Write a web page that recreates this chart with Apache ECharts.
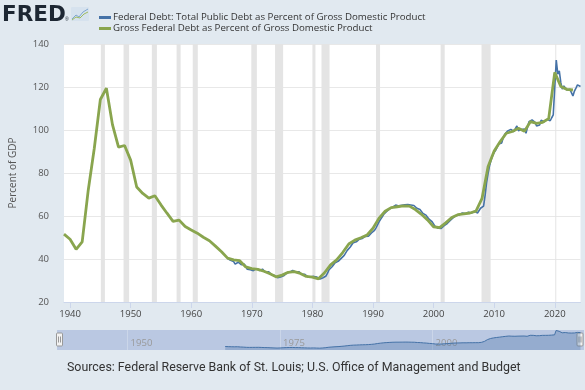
<!DOCTYPE html>
<html>
<head>
<meta charset="utf-8">
<script src="https://cdn.jsdelivr.net/npm/echarts@6/dist/echarts.min.js"></script>
<style>
html,body{margin:0;padding:0;background:#e1e9f0;}
#chart{width:585px;height:390px;}
</style>
</head>
<body>
<div id="chart"></div>
<script>
// ---- Data ----
const seriesNames = [
  'Federal Debt: Total Public Debt as Percent of Gross Domestic Product',
  'Gross Federal Debt as Percent of Gross Domestic Product'
];
// Gross Federal Debt % GDP, annual, 1939..2023
const grossStartYear = 1939;
const grossValues = [
  51.6, 49.2, 44.5, 48.0, 72.0, 91.5, 114.2, 119.4, 102.5, 92.0,
  92.8, 86.0, 73.5, 70.5, 68.3, 69.4, 65.2, 61.3, 57.5, 58.1,
  55.1, 53.5, 52.0, 50.1, 48.5, 46.0, 43.4, 40.4, 39.6, 39.2,
  36.3, 35.5, 35.2, 34.3, 33.1, 31.7, 32.5, 33.8, 34.1, 33.3,
  31.9, 31.6, 30.8, 33.6, 37.3, 39.6, 43.0, 47.0, 48.8, 49.9,
  51.1, 54.3, 59.0, 62.2, 63.9, 64.3, 64.7, 64.6, 63.0, 60.8,
  58.2, 55.0, 54.6, 56.8, 59.3, 60.6, 61.0, 61.4, 62.3, 68.2,
  83.0, 90.2, 94.6, 98.5, 99.3, 100.8, 99.4, 103.9, 103.1, 103.6,
  105.3, 126.8, 120.2, 118.9, 118.6
];
// Total Public Debt % GDP, quarterly, 1966Q1..2024Q2
const publicStartYear = 1966;
const publicValues = [
  40.2, 39.3, 39.4, 38.6,  38.8, 37.6, 38.4, 38.5,  38.8, 37.4, 37.4, 37.6,  36.6, 35.2, 35.3, 35.0,
  35.0, 34.6, 35.1, 35.5,  35.2, 34.6, 35.4, 35.3,  34.6, 33.8, 33.9, 34.1,  33.6, 32.8, 32.6, 32.3,
  31.9, 31.3, 31.1, 31.6,  31.8, 32.2, 33.0, 33.4,  33.8, 33.9, 34.3, 34.7,  34.6, 33.9, 33.8, 34.1,
  33.8, 32.9, 32.8, 32.9,  32.3, 31.7, 31.6, 31.7,  31.4, 31.9, 31.9, 31.6,  31.1, 30.7, 30.5, 31.3,
  31.7, 32.1, 33.4, 35.0,  35.9, 36.4, 37.3, 38.3,  38.6, 38.9, 39.5, 40.3,  40.9, 41.7, 42.6, 44.0,
  44.7, 45.6, 46.6, 47.6,  47.9, 48.0, 48.5, 49.2,  49.4, 49.6, 50.0, 50.5,  50.4, 50.6, 51.2, 52.1,
  52.6, 53.3, 54.5, 55.9,  57.3, 58.4, 59.5, 60.7,  61.5, 62.1, 62.7, 63.3,  63.7, 64.1, 64.6, 65.1,
  65.1, 64.7, 65.1, 65.0,  65.2, 65.2, 65.6, 65.3,  65.4, 65.1, 64.9, 64.9,  64.6, 63.6, 63.1, 63.0,
  62.5, 61.2, 60.8, 60.4,  59.8, 58.5, 57.8, 57.4,  56.6, 55.2, 54.4, 54.3,  54.1, 54.2, 54.4, 55.5,
  56.1, 56.5, 57.0, 57.9,  58.4, 59.2, 59.8, 60.3,  60.5, 60.5, 60.8, 61.4,  61.5, 61.1, 61.3, 61.8,
  61.9, 61.3, 61.8, 62.3,  62.2, 61.4, 62.1, 63.6,  63.9, 64.6, 69.5, 75.5,  79.8, 83.5, 86.0, 88.0,
  89.6, 90.6, 92.0, 93.5,  94.0, 94.0, 96.5, 98.0,  98.6, 99.6, 100.5, 100.3, 99.5, 99.3, 99.0, 101.9,
  99.7, 100.5, 100.2, 101.0, 100.5, 98.5, 98.8, 103.9, 104.5, 104.7, 104.2, 103.5, 101.9, 102.5, 102.3, 104.5,
  104.1, 103.8, 104.2, 105.0, 104.5, 104.3, 105.7, 107.0, 107.0, 132.5, 126.0, 127.5, 122.0, 119.0, 120.5, 120.5,
  118.6, 118.0, 119.0, 117.4, 115.8, 118.1, 119.5, 121.0, 121.3, 120.2
];
// NBER recessions (peak month, trough month)
const recessions = [
  ['1945-02','1945-10'], ['1948-11','1949-10'], ['1953-07','1954-05'], ['1957-08','1958-04'],
  ['1960-04','1961-02'], ['1969-12','1970-11'], ['1973-11','1975-03'], ['1980-01','1980-07'],
  ['1981-07','1982-11'], ['1990-07','1991-03'], ['2001-03','2001-11'], ['2007-12','2009-06'],
  ['2020-02','2020-04']
];
const xTickLabels = [1940, 1950, 1960, 1970, 1980, 1990, 2000, 2010, 2020];
const navTickLabels = [1950, 1975, 2000];
const yMin = 20, yMax = 140, yStep = 20;
const sourceText = 'Sources: Federal Reserve Bank of St. Louis; U.S. Office of Management and Budget';
const yAxisTitle = 'Percent of GDP';

// ---- Build ----
const grossData = grossValues.map((v, i) => [grossStartYear + i, v]);
const publicData = publicValues.map((v, i) => [publicStartYear + i * 0.25, v]);
const toDec = s => { const [y, m] = s.split('-').map(Number); return y + (m - 1) / 12; };
const recAreas = recessions.map(([a, b]) => [{ xAxis: toDec(a) }, { xAxis: toDec(b) }]);
const xMin = grossStartYear;
const xMax = publicData[publicData.length - 1][0];

const chart = echarts.init(document.getElementById('chart'), null, { renderer: 'canvas' });
const FONT = '"Open Sans", sans-serif';

const handle = (x) => ({
  type: 'group', x: x, y: 333, z: 10,
  children: [
    { type: 'rect', shape: { x: -3, y: 0, width: 6, height: 13, r: 1 }, style: { fill: '#f2f2f2', stroke: '#999', lineWidth: 1 } },
    { type: 'line', shape: { x1: -1, y1: 3.5, x2: -1, y2: 9.5 }, style: { stroke: '#999', lineWidth: 1 } },
    { type: 'line', shape: { x1: 1, y1: 3.5, x2: 1, y2: 9.5 }, style: { stroke: '#999', lineWidth: 1 } }
  ]
});

chart.setOption({
  animation: false,
  backgroundColor: '#e1e9f0',
  textStyle: { fontFamily: FONT },
  legend: {
    data: seriesNames,
    orient: 'vertical',
    left: 94, top: 7,
    icon: 'rect', itemWidth: 12, itemHeight: 3, itemGap: 0,
    textStyle: { fontSize: 9.7, color: '#333', fontFamily: FONT, lineHeight: 11, padding: [0, 0, 0, -3] },
    selectedMode: false
  },
  grid: [
    { left: 60.5, right: 4.5, top: 44, height: 258, show: true, backgroundColor: '#ffffff', borderWidth: 0 },
    { left: 60.5, right: 4.5, top: 330, height: 20 }
  ],
  xAxis: [
    {
      type: 'value', gridIndex: 0, min: xMin, max: xMax,
      axisLine: { show: true, lineStyle: { color: '#ccd6eb' } },
      axisTick: { show: true, length: 6, customValues: xTickLabels, lineStyle: { color: '#ccd6eb' } },
      axisLabel: { customValues: xTickLabels, formatter: v => String(v), color: '#444', fontSize: 9.5, margin: 7, fontFamily: FONT },
      splitLine: { show: false }
    },
    {
      type: 'value', gridIndex: 1, min: xMin, max: xMax,
      axisLine: { show: false },
      axisTick: { show: false, customValues: navTickLabels },
      axisLabel: { customValues: navTickLabels, inside: true, formatter: v => String(v), color: '#999', fontSize: 9.5, align: 'left', margin: 2, padding: [0, 0, 0, 3], fontFamily: FONT },
      splitLine: { show: true, lineStyle: { color: 'rgba(255,255,255,0.25)' } }
    }
  ],
  yAxis: [
    {
      type: 'value', gridIndex: 0, min: yMin, max: yMax, interval: yStep,
      name: yAxisTitle, nameLocation: 'middle', nameRotate: 90, nameGap: 46,
      nameTextStyle: { color: '#555', fontSize: 10, fontFamily: FONT },
      axisLine: { show: false }, axisTick: { show: false },
      axisLabel: { color: '#555', fontSize: 9.5, margin: 15, padding: [0, 0, 10, 0], fontFamily: FONT },
      splitLine: { show: true, lineStyle: { color: '#e8e8e8', width: 1 } }
    },
    { type: 'value', gridIndex: 1, min: 20, max: 135, show: false }
  ],
  graphic: [
    { type: 'rect', z: 0, shape: { x: 57, y: 330, width: 527, height: 20 }, style: { fill: '#bac8e2' } },
    handle(59.5), handle(580),
    { type: 'text', left: 2, top: 4, style: { text: 'FRED', font: 'bold 21.5px "DejaVu Sans", sans-serif', fill: '#1d2733' } },
    { type: 'text', left: 65, top: 17, style: { text: '®', font: '5px sans-serif', fill: '#1d2733' } },
    { type: 'rect', shape: { x: 71, y: 7, width: 18, height: 14, r: 1 }, style: { fill: '#d6e2ee' } },
    { type: 'polyline', shape: { points: [[72, 19], [76, 15], [79, 17], [83, 12], [88, 9]] }, style: { stroke: '#7fa6cf', lineWidth: 1, fill: null } },
    { type: 'polyline', shape: { points: [[72, 20], [76, 17], [80, 18], [84, 14], [88, 12]] }, style: { stroke: '#9dbb5f', lineWidth: 1, fill: null } },
    { type: 'text', left: 67, top: 362, style: { text: sourceText, font: '12.4px Roboto, sans-serif', fill: '#333' } }
  ],
  series: [
    {
      name: 'recessions', type: 'line', xAxisIndex: 0, yAxisIndex: 0, data: [], z: 1, silent: true,
      markArea: { silent: true, itemStyle: { color: '#e4e4e4' }, data: recAreas }
    },
    {
      name: seriesNames[0], type: 'line', xAxisIndex: 0, yAxisIndex: 0, data: publicData, z: 3,
      showSymbol: false, symbol: 'none', color: '#4572a7', lineStyle: { width: 1.6, color: '#4572a7' }
    },
    {
      name: seriesNames[1], type: 'line', xAxisIndex: 0, yAxisIndex: 0, data: grossData, z: 4,
      showSymbol: false, symbol: 'none', color: '#89a54e', lineStyle: { width: 2.8, color: '#89a54e' }
    },
    {
      name: 'navigator', type: 'line', xAxisIndex: 1, yAxisIndex: 1, data: publicData, z: 3, silent: true,
      showSymbol: false, symbol: 'none', lineStyle: { width: 1, color: '#4572a7' },
      areaStyle: { color: 'rgba(69,114,167,0.45)' }
    }
  ]
});
</script>
</body>
</html>
